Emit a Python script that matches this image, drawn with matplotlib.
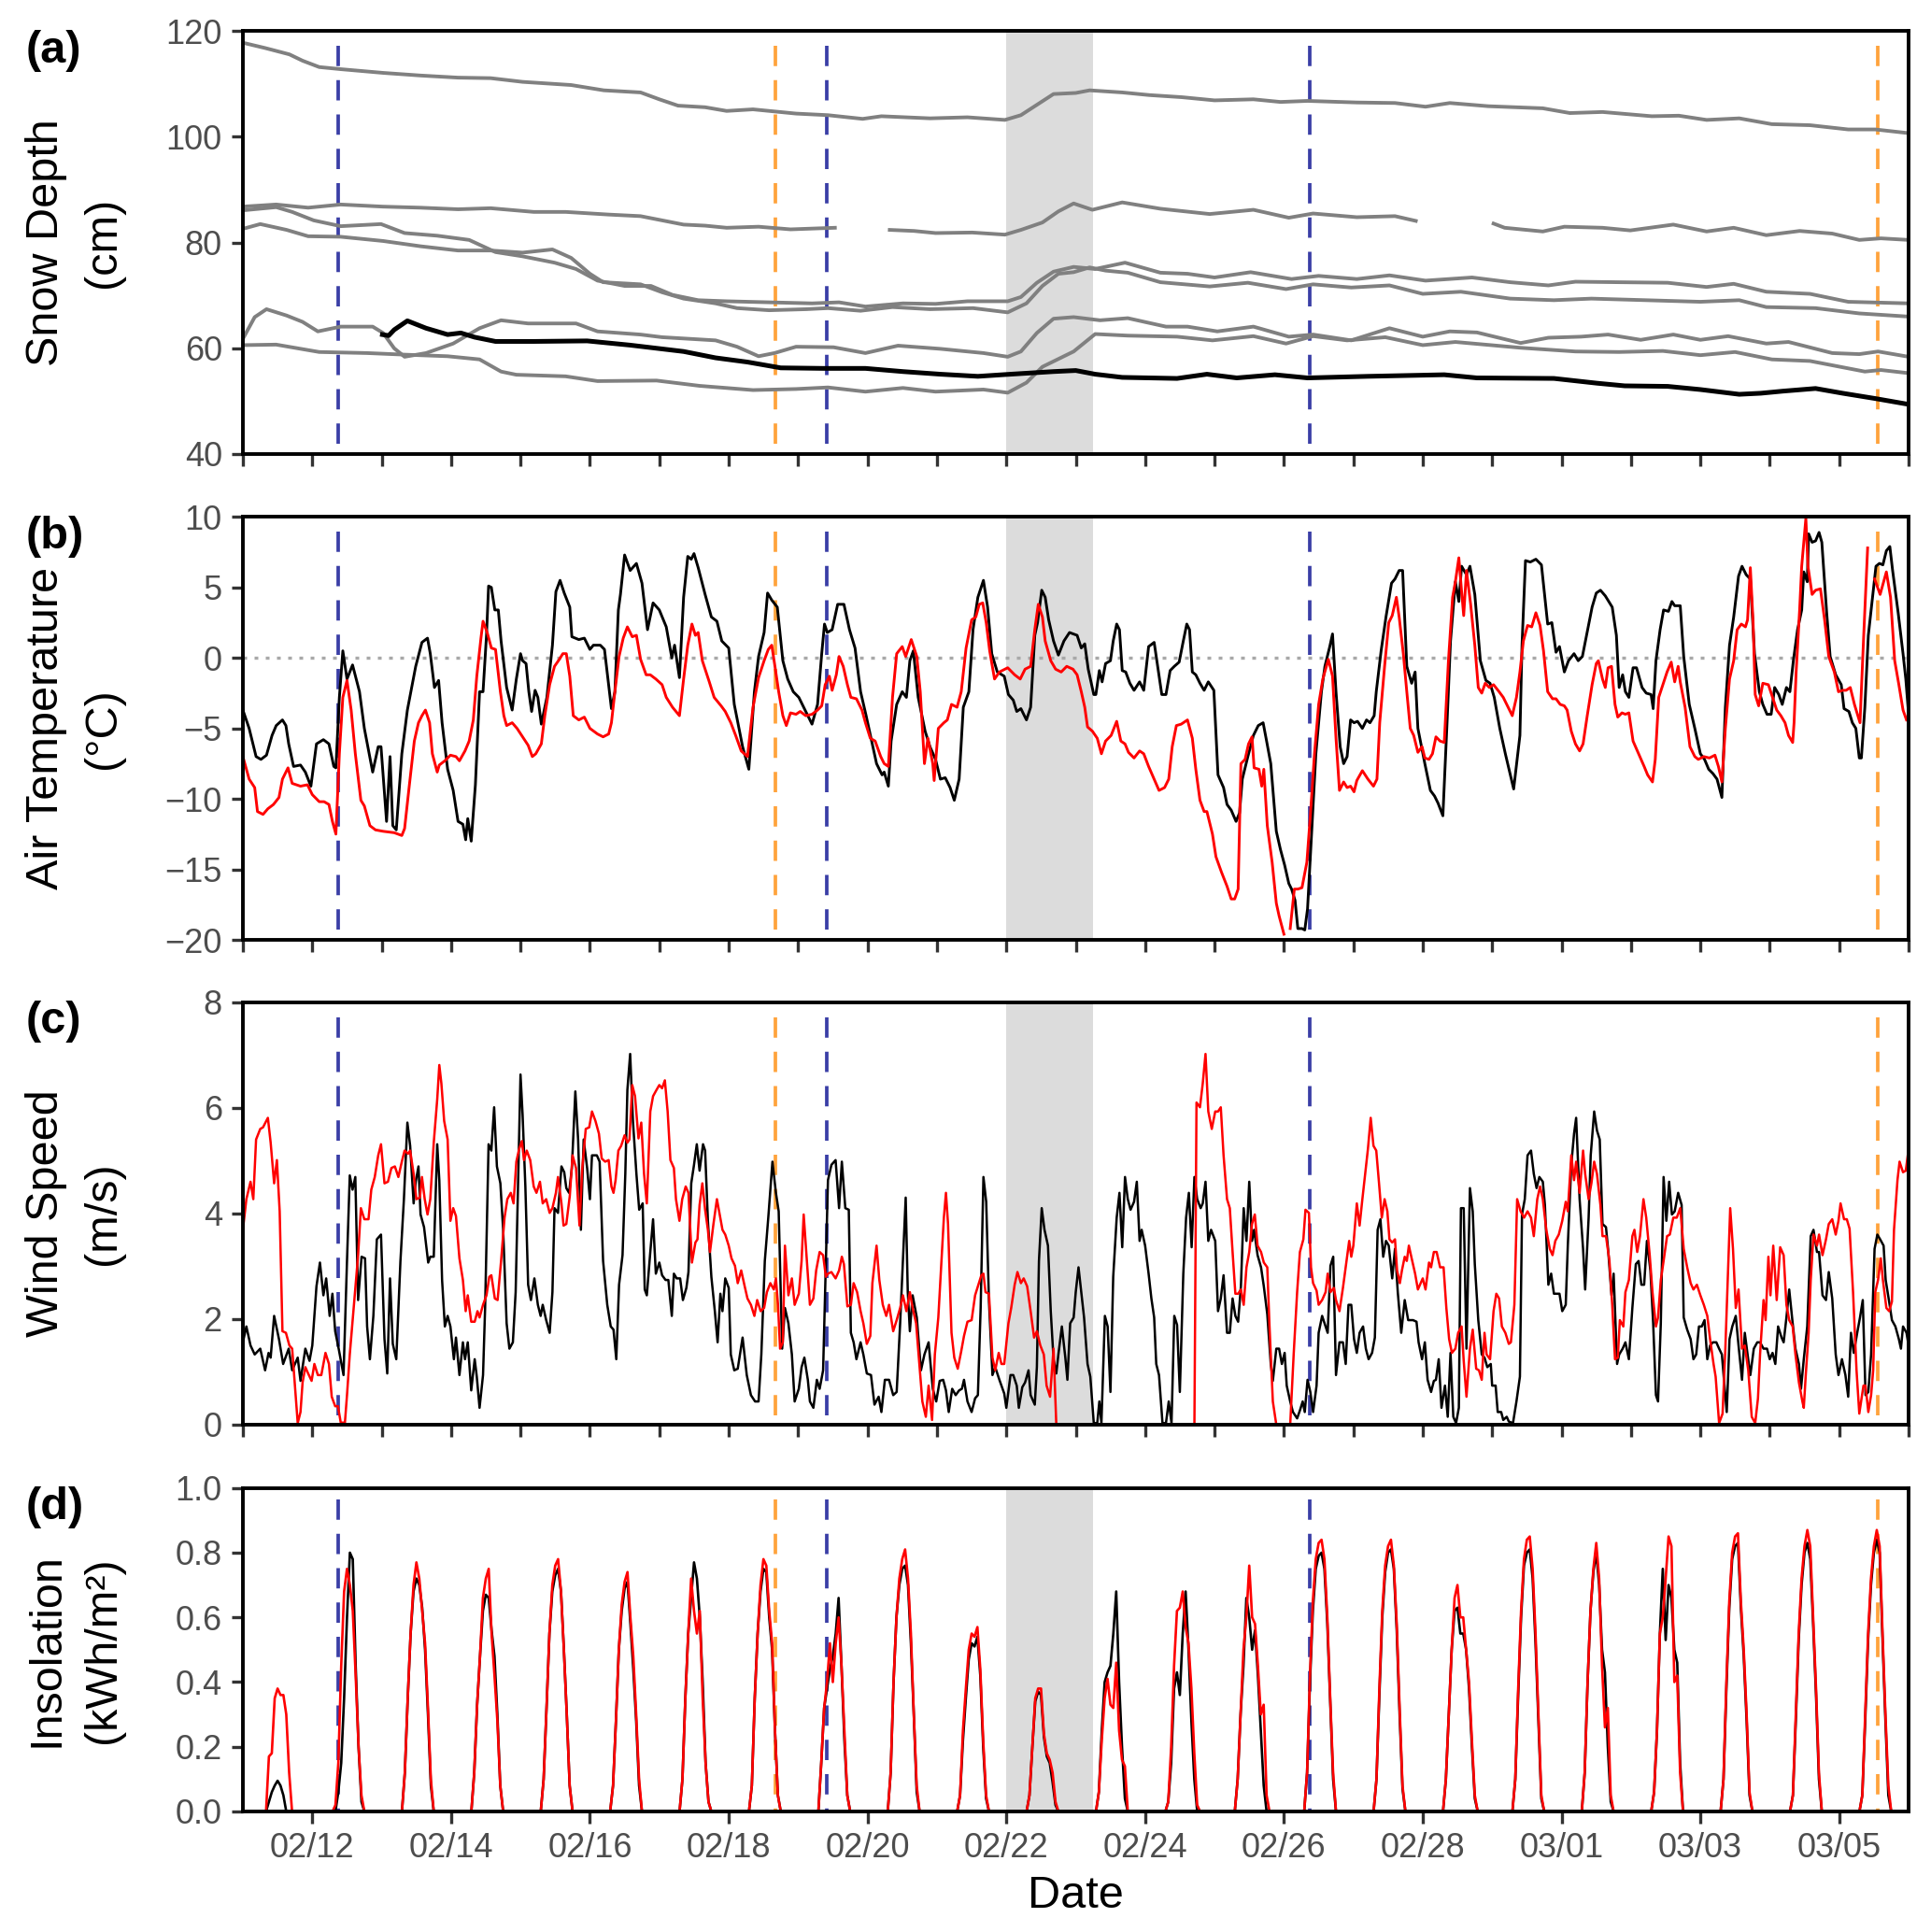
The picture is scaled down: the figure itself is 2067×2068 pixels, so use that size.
import numpy as np
import matplotlib
matplotlib.use('Agg')
import matplotlib.pyplot as plt
import matplotlib.dates as mdates
import matplotlib.ticker as mticker
from datetime import datetime

NaN = float('nan')

# ---------------- data (x = days since 2020-02-11 00:00) ----------------
START = datetime(2020, 2, 11)
END = datetime(2020, 3, 6)

blue_events = ['2020-02-12 08:50', '2020-02-19 10:00', '2020-02-26 09:00']
orange_events = ['2020-02-18 16:00', '2020-03-05 13:15']
gray_period = ('2020-02-22 00:00', '2020-02-23 06:00')
date_tick_labels = ['2020-02-12', '2020-02-14', '2020-02-16', '2020-02-18', '2020-02-20',
                    '2020-02-22', '2020-02-24', '2020-02-26', '2020-02-28', '2020-03-01',
                    '2020-03-03', '2020-03-05']

# (a) snow depth, cm
snow_main = [(2.01,62.6),(2.10,62.4),(2.18,63.5),(2.37,65.2),(2.64,63.8),(2.95,62.6),(3.14,62.9),(3.34,62.1),
             (3.64,61.3),(4.19,61.3),(4.96,61.4),(5.58,60.6),(6.35,59.4),(6.81,58.2),(7.27,57.4),(7.75,56.3),
             (8.36,56.2),(8.97,56.2),(9.51,55.6),(10.05,55.1),(10.59,54.7),(11.06,55.1),(11.68,55.6),(12.0,55.8),
             (12.28,55.1),(12.67,54.5),(13.46,54.3),(13.89,55.1),(14.32,54.4),(14.87,55.0),(15.34,54.4),(16.21,54.7),
             (17.31,55.0),(17.78,54.4),(18.89,54.3),(19.51,53.4),(19.91,52.9),(20.53,52.8),(21.0,52.2),(21.56,51.3),
             (21.87,51.5),(22.19,51.9),(22.66,52.4),(23.05,51.5),(23.52,50.5),(24.0,49.4)]
snow_s1 = [(0,117.8),(0.32,116.8),(0.67,115.6),(0.86,114.4),(1.10,113.2),(1.41,112.8),(2.02,112.1),(2.56,111.6),
           (3.10,111.2),(3.57,111.1),(4.03,110.4),(4.73,109.8),(5.20,108.8),(5.73,108.4),(6.00,107.1),(6.27,105.9),
           (6.66,105.6),(6.97,104.9),(7.35,105.2),(7.97,104.4),(8.43,104.1),(8.93,103.4),(9.20,103.9),(9.90,103.5),
           (10.44,103.7),(10.98,103.2),(11.21,104.1),(11.68,108.1),(12.0,108.3),(12.2,108.8),(12.67,108.4),(13.06,107.9),
           (13.53,107.5),(14.0,106.9),(14.56,107.1),(14.95,106.6),(15.34,106.8),(16.05,106.5),(16.6,106.4),(17.04,105.7),
           (17.39,106.4),(17.94,105.8),(18.73,105.4),(19.12,104.5),(19.59,104.7),(20.30,103.9),(20.69,104.0),(21.09,103.2),
           (21.56,103.5),(22.03,102.4),(22.58,102.2),(23.13,101.4),(23.52,101.4),(24.0,100.7)]
snow_s2 = [(0,86.8),(0.48,87.2),(0.94,86.6),(1.41,87.2),(2.02,86.8),(2.56,86.6),(3.10,86.3),(3.57,86.5),(4.19,85.8),
           (4.65,85.8),(5.27,85.3),(5.73,85.0),(6.04,84.2),(6.35,83.4),(6.66,83.2),(6.97,82.8),(7.43,83.0),(7.89,82.5),
           (8.53,82.8),(8.9,NaN),(9.32,82.4),(9.67,82.2),(9.98,81.8),(10.51,81.9),(10.98,81.5),(11.21,82.4),(11.52,83.8),
           (11.75,85.9),(11.97,87.4),(12.24,86.2),(12.67,87.6),(13.22,86.4),(13.93,85.4),(14.56,86.2),(15.07,84.7),
           (15.42,85.5),(16.05,84.8),(16.6,85.0),(16.9,84.1),(17.5,NaN),(18.02,83.6),(18.18,82.8),(18.73,82.1),
           (19.04,83.0),(19.59,82.8),(19.99,82.3),(20.61,83.4),(21.09,82.1),(21.48,82.8),(21.95,81.4),(22.43,82.2),
           (22.90,81.7),(23.29,80.5),(23.6,80.8),(24.0,80.5)]
snow_s3 = [(0,86.1),(0.48,86.7),(0.71,85.8),(1.02,84.2),(1.41,83.1),(1.99,83.5),(2.33,81.8),(2.80,81.3),(3.26,80.5),
           (3.64,78.2),(4.03,77.4),(4.49,76.2),(4.80,75.0),(5.11,72.8),(5.50,71.8),(5.88,71.8),(6.19,70.1),(6.56,69.1),
           (6.97,68.9),(7.58,68.7),(8.20,68.5),(8.59,68.7),(8.97,67.9),(9.51,68.5),(9.98,68.4),(10.44,68.9),(11.02,68.9),
           (11.21,69.7),(11.44,72.4),(11.68,74.5),(11.97,75.4),(12.28,75.0),(12.71,76.2),(13.22,74.3),(13.61,74.1),
           (14.0,73.4),(14.52,74.4),(15.11,73.1),(15.5,73.7),(16.05,73.1),(16.52,73.8),(17.04,72.8),(17.71,73.4),
           (18.26,72.5),(18.81,71.9),(19.2,72.6),(19.83,72.5),(20.53,72.4),(21.09,71.6),(21.48,72.2),(21.95,70.7),
           (22.58,70.3),(23.13,68.8),(24.0,68.5)]
snow_s4 = [(0,82.6),(0.25,83.5),(0.63,82.4),(0.94,81.2),(1.41,81.1),(2.02,80.3),(2.56,79.3),(3.10,78.5),(3.57,78.5),
           (4.03,78.1),(4.46,78.7),(4.73,77.1),(5.00,74.1),(5.19,72.5),(5.73,72.1),(6.04,70.6),(6.35,69.4),(6.81,68.5),
           (7.12,67.6),(7.58,67.2),(8.12,67.4),(8.43,67.6),(8.90,67.1),(9.36,67.8),(9.90,67.4),(10.52,67.6),(11.02,66.8),
           (11.29,68.5),(11.52,71.8),(11.75,74.1),(11.97,74.4),(12.2,75.3),(12.43,74.7),(12.75,74.3),(13.22,72.5),
           (13.93,71.7),(14.48,72.4),(15.03,71.2),(15.42,72.1),(15.97,71.5),(16.52,71.9),(17.0,70.3),(17.55,70.7),
           (18.26,69.4),(18.89,69.1),(19.43,69.4),(20.22,69.1),(21.0,68.8),(21.56,69.1),(21.95,67.8),(22.66,67.6),
           (23.29,66.6),(24.0,66.0)]
snow_s5 = [(0,61.8),(0.17,65.9),(0.34,67.4),(0.63,66.2),(0.86,65.0),(1.08,63.2),(1.41,64.1),(1.87,64.1),(2.02,62.9),
           (2.18,60.0),(2.33,58.4),(2.64,59.1),(3.03,60.9),(3.41,63.8),(3.72,65.3),(4.11,64.7),(4.80,64.7),(5.11,63.2),
           (5.73,62.6),(6.04,62.1),(6.81,61.5),(7.12,60.3),(7.43,58.5),(7.66,59.1),(7.97,60.3),(8.51,60.2),(8.97,59.1),
           (9.44,60.5),(10.05,59.9),(10.67,59.1),(11.02,58.4),(11.21,59.4),(11.44,62.9),(11.68,65.6),(11.97,65.9),
           (12.35,65.3),(12.75,65.7),(13.30,64.1),(13.61,64.1),(14.04,63.2),(14.56,64.1),(15.07,62.2),(15.42,62.6),
           (15.97,61.5),(16.52,63.8),(17.0,62.2),(17.39,63.2),(17.78,63.0),(18.41,61.0),(18.81,62.0),(19.28,62.2),
           (19.67,62.6),(20.14,61.6),(20.61,62.6),(21.0,61.6),(21.4,62.3),(21.95,60.9),(22.27,61.2),(22.90,59.1),
           (23.29,58.9),(23.56,59.4),(24.0,58.4)]
snow_s6 = [(0,60.6),(0.48,60.7),(1.10,59.3),(1.79,59.1),(2.33,58.8),(2.95,58.5),(3.41,57.9),(3.72,55.6),(3.94,55.0),
           (4.65,54.7),(5.11,53.8),(5.96,53.9),(6.58,52.9),(7.35,52.1),(7.97,52.3),(8.43,52.6),(8.97,51.8),(9.51,52.5),
           (9.98,51.8),(10.67,52.2),(11.02,51.6),(11.29,53.5),(11.52,56.5),(11.97,59.4),(12.28,62.7),(12.75,62.4),
           (13.46,62.2),(13.97,61.5),(14.56,62.3),(15.03,60.9),(15.42,62.3),(15.91,61.5),(16.46,62.1),(17.0,60.6),
           (17.47,61.2),(18.41,60.1),(19.2,59.4),(19.83,59.3),(20.46,59.5),(21.0,58.7),(21.5,59.3),(22.03,57.9),
           (22.58,57.6),(23.37,55.6),(23.6,55.9),(24.0,55.3)]

# (b) air temperature, degC (black = site 1, red = site 2)
temp_black = [(0,-3.7),(0.09,-5.0),(0.19,-7.0),(0.26,-7.2),(0.34,-6.9),(0.42,-5.5),(0.48,-4.8),(0.57,-4.4),(0.62,-4.8),
 (0.66,-6.1),(0.73,-7.7),(0.83,-7.6),(0.90,-8.1),(0.98,-9.1),(1.06,-6.1),(1.16,-5.8),(1.24,-6.1),(1.31,-7.7),(1.34,-7.8),
 (1.39,-2.8),(1.44,0.5),(1.50,-1.5),(1.58,-0.5),(1.68,-2.4),(1.75,-5.0),(1.87,-8.1),(1.95,-6.3),(1.99,-6.3),(2.07,-11.6),
 (2.12,-7.0),(2.16,-11.9),(2.21,-12.2),(2.29,-6.8),(2.37,-3.7),(2.49,-0.6),(2.58,1.1),(2.66,1.4),(2.70,0.3),(2.76,-2.1),
 (2.82,-1.6),(2.87,-4.6),(2.95,-7.9),(3.03,-9.4),(3.10,-11.6),(3.17,-11.8),(3.21,-12.9),(3.24,-11.4),(3.29,-13.0),
 (3.35,-9.0),(3.41,-2.4),(3.46,-2.4),(3.51,1.6),(3.54,5.1),(3.58,5.0),(3.63,3.4),(3.68,3.4),(3.72,1.2),(3.80,-2.1),
 (3.88,-3.7),(3.94,-1.5),(4.00,0.3),(4.03,-0.2),(4.08,-0.4),(4.12,-2.4),(4.16,-3.8),(4.21,-2.3),(4.25,-2.8),(4.30,-4.7),
 (4.38,-2.8),(4.46,0.9),(4.51,4.7),(4.57,5.5),(4.63,4.6),(4.71,3.6),(4.74,1.5),(4.84,1.3),(4.92,1.4),(5.00,0.6),
 (5.05,0.9),(5.15,0.9),(5.21,0.6),(5.27,-1.9),(5.31,-3.6),(5.36,-2.4),(5.41,3.4),(5.44,4.5),(5.50,7.3),(5.58,6.2),
 (5.67,6.7),(5.75,5.3),(5.80,3.2),(5.83,2.0),(5.91,3.9),(6.00,3.4),(6.10,2.2),(6.18,0.0),(6.22,0.9),(6.29,-1.4),
 (6.35,4.3),(6.41,7.2),(6.46,7.0),(6.50,7.4),(6.56,6.4),(6.66,4.5),(6.75,2.9),(6.83,2.6),(6.90,1.2),(7.00,0.7),
 (7.08,-3.3),(7.20,-6.3),(7.29,-7.9),(7.37,-2.4),(7.43,0.1),(7.51,1.8),(7.56,4.6),(7.62,4.1),(7.70,3.6),(7.78,-0.2),
 (7.85,-1.5),(7.93,-2.4),(8.01,-2.8),(8.08,-3.5),(8.20,-4.7),(8.28,-3.3),(8.34,0.3),(8.38,2.4),(8.42,1.8),(8.49,2.0),
 (8.57,3.8),(8.66,3.8),(8.74,2.0),(8.82,0.7),(8.90,-2.4),(8.98,-4.1),(9.05,-5.7),(9.13,-7.5),(9.21,-8.3),(9.24,-8.1),
 (9.30,-9.1),(9.34,-5.9),(9.42,-3.3),(9.50,-2.4),(9.56,-2.8),(9.61,-0.2),(9.66,0.5),(9.73,-2.8),(9.83,-5.2),(9.90,-6.3),
 (9.98,-7.2),(10.05,-8.6),(10.12,-8.5),(10.19,-9.2),(10.25,-10.1),(10.32,-8.6),(10.38,-3.5),(10.46,-2.4),(10.52,2.0),
 (10.59,4.3),(10.67,5.5),(10.73,3.6),(10.79,0.3),(10.87,-1.0),(10.97,-1.3),(11.03,-2.6),(11.10,-3.0),(11.15,-3.8),
 (11.21,-3.6),(11.29,-4.4),(11.35,-3.5),(11.41,1.6),(11.45,2.5),(11.51,4.8),(11.56,4.3),(11.61,2.7),(11.68,1.2),
 (11.75,0.2),(11.83,1.2),(11.91,1.8),(12.02,1.6),(12.08,0.7),(12.13,1.0),(12.18,-0.8),(12.26,-2.6),(12.29,-2.6),
 (12.34,-0.9),(12.38,-1.7),(12.43,-0.4),(12.50,-0.2),(12.54,1.2),(12.59,2.4),(12.63,2.0),(12.67,-0.9),(12.72,-1.0),
 (12.78,-1.8),(12.84,-2.3),(12.92,-1.7),(12.98,-2.3),(13.05,0.8),(13.13,1.1),(13.18,-0.6),(13.24,-2.6),(13.30,-2.6),
 (13.36,-0.9),(13.42,-0.6),(13.49,-0.3),(13.55,1.2),(13.60,2.4),(13.64,2.0),(13.68,-1.0),(13.73,-1.2),(13.79,-1.8),
 (13.85,-2.3),(13.91,-1.7),(13.99,-2.3),(14.05,-8.3),(14.13,-9.2),(14.18,-10.4),(14.24,-10.8),(14.31,-11.6),
 (14.36,-11.0),(14.40,-8.6),(14.48,-7.0),(14.56,-5.5),(14.63,-4.8),(14.70,-4.6),(14.75,-5.9),(14.81,-7.5),(14.89,-12.3),
 (14.95,-13.6),(15.01,-14.7),(15.07,-16.0),(15.11,-16.4),(15.16,-17.2),(15.20,-19.2),(15.26,-19.2),(15.30,-19.3),
 (15.34,-17.8),(15.40,-12.3),(15.46,-6.8),(15.54,-2.4),(15.59,-0.6),(15.66,0.8),(15.70,1.7),(15.75,-2.4),(15.81,-6.3),
 (15.86,-7.5),(15.91,-7.0),(15.96,-4.4),(16.01,-4.6),(16.06,-4.5),(16.13,-5.0),(16.19,-4.4),(16.24,-4.6),(16.30,-4.1),
 (16.33,-2.4),(16.40,0.5),(16.47,2.9),(16.55,5.3),(16.60,5.6),(16.66,6.2),(16.71,6.2),(16.77,-0.6),(16.84,-1.8),
 (16.89,-1.0),(16.93,-5.0),(17.03,-7.5),(17.11,-9.4),(17.17,-9.8),(17.22,-10.3),(17.29,-11.2),(17.35,-4.6),(17.40,1.2),
 (17.47,5.4),(17.52,4.0),(17.56,6.5),(17.63,5.9),(17.68,6.5),(17.75,4.5),(17.83,-0.2),(17.91,-1.6),(17.97,-1.8),
 (18.03,-2.8),(18.11,-5.0),(18.19,-6.8),(18.31,-9.3),(18.40,-5.5),(18.43,0.9),(18.48,6.9),(18.55,6.8),(18.63,7.0),
 (18.71,6.6),(18.76,4.3),(18.80,2.4),(18.86,2.5),(18.92,0.4),(18.97,0.8),(19.04,-1.0),(19.10,-0.2),(19.18,0.3),
 (19.24,-0.2),(19.30,0.1),(19.36,1.6),(19.44,3.6),(19.50,4.6),(19.56,4.8),(19.63,4.4),(19.73,3.6),(19.79,1.6),
 (19.83,-2.1),(19.88,-1.2),(19.92,-2.4),(19.97,-2.8),(20.03,-0.7),(20.08,-0.7),(20.16,-2.1),(20.22,-2.5),(20.29,-2.6),
 (20.32,-3.6),(20.36,-0.2),(20.42,2.0),(20.47,3.4),(20.54,3.3),(20.59,4.0),(20.63,3.7),(20.71,3.7),(20.76,0.1),
 (20.84,-3.3),(20.92,-5.0),(21.00,-6.8),(21.06,-7.2),(21.12,-7.9),(21.18,-8.2),(21.24,-8.6),(21.31,-9.9),(21.36,-3.5),
 (21.42,0.9),(21.48,2.9),(21.55,5.8),(21.60,6.5),(21.66,5.9),(21.72,5.6),(21.78,0.3),(21.85,-2.4),(21.90,-3.3),
 (21.96,-4.0),(22.02,-4.0),(22.07,-2.1),(22.13,-2.6),(22.18,-3.3),(22.24,-2.1),(22.29,-2.4),(22.34,-0.2),(22.40,2.0),
 (22.46,3.4),(22.49,6.1),(22.54,5.4),(22.56,8.8),(22.61,8.2),(22.66,8.3),(22.71,8.9),(22.75,8.2),(22.82,3.2),
 (22.87,0.1),(22.95,-1.2),(23.03,-1.9),(23.07,-3.6),(23.14,-3.8),(23.19,-4.6),(23.24,-5.0),(23.29,-7.1),(23.32,-7.1),
 (23.37,-3.5),(23.42,1.6),(23.48,4.3),(23.53,6.5),(23.58,6.7),(23.63,6.6),(23.68,7.6),(23.73,7.9),(23.77,6.2),
 (23.85,3.2),(23.92,0.3),(23.96,-1.5),(24.0,-4.0)]
temp_red = [(0,-7.0),(0.09,-8.6),(0.17,-9.2),(0.21,-10.9),(0.29,-11.1),(0.36,-10.7),(0.44,-10.4),(0.52,-9.9),(0.57,-8.6),
 (0.65,-7.8),(0.71,-8.9),(0.83,-9.1),(0.93,-9.0),(1.00,-9.7),(1.10,-10.2),(1.17,-10.2),(1.24,-10.4),(1.29,-11.6),
 (1.34,-12.5),(1.39,-6.8),(1.44,-2.8),(1.50,-1.6),(1.56,-3.7),(1.62,-6.8),(1.70,-10.1),(1.75,-10.5),(1.83,-11.9),
 (1.91,-12.2),(2.02,-12.3),(2.18,-12.4),(2.29,-12.6),(2.33,-12.1),(2.39,-9.4),(2.47,-5.9),(2.53,-4.6),(2.58,-4.1),
 (2.63,-3.7),(2.69,-4.6),(2.73,-6.8),(2.80,-8.1),(2.83,-7.6),(2.91,-7.3),(2.99,-6.9),(3.07,-7.0),(3.12,-7.3),(3.20,-6.6),
 (3.26,-5.9),(3.32,-4.4),(3.37,-1.3),(3.43,1.4),(3.46,2.6),(3.52,1.8),(3.58,0.7),(3.64,0.6),(3.71,-2.4),(3.76,-4.1),
 (3.80,-4.8),(3.88,-4.6),(3.95,-5.0),(4.03,-5.6),(4.11,-6.2),(4.17,-7.0),(4.22,-6.8),(4.30,-6.1),(4.35,-4.1),(4.42,-1.9),
 (4.49,-0.6),(4.56,-0.1),(4.61,0.3),(4.66,0.3),(4.71,-1.3),(4.76,-4.1),(4.84,-4.4),(4.92,-4.2),(5.00,-5.0),(5.11,-5.4),
 (5.19,-5.6),(5.27,-5.4),(5.31,-4.6),(5.36,-2.4),(5.42,0.1),(5.48,1.4),(5.54,2.2),(5.61,1.5),(5.67,1.6),(5.73,-0.1),
 (5.81,-1.2),(5.87,-1.2),(5.95,-1.5),(6.04,-1.9),(6.10,-2.8),(6.19,-3.5),(6.29,-4.1),(6.35,-1.5),(6.41,0.9),(6.47,2.4),
 (6.52,1.6),(6.56,1.8),(6.62,-0.2),(6.72,-1.7),(6.79,-2.8),(6.89,-3.4),(6.95,-3.8),(7.03,-4.6),(7.10,-5.5),(7.18,-6.6),
 (7.27,-7.0),(7.35,-3.5),(7.43,-1.4),(7.51,-0.2),(7.57,0.6),(7.62,0.9),(7.66,-0.4),(7.72,-2.4),(7.78,-4.1),(7.83,-4.8),
 (7.89,-3.9),(7.97,-4.0),(8.03,-3.8),(8.11,-4.1),(8.20,-4.0),(8.28,-3.7),(8.34,-3.4),(8.39,-1.9),(8.45,-1.3),(8.49,-2.3),
 (8.55,-1.2),(8.59,0.1),(8.65,-0.6),(8.71,-1.9),(8.76,-2.8),(8.84,-2.9),(8.92,-3.7),(8.97,-4.6),(9.04,-5.7),(9.11,-5.9),
 (9.19,-7.0),(9.24,-7.5),(9.30,-7.7),(9.36,-2.8),(9.42,0.3),(9.50,0.8),(9.55,0.1),(9.63,1.3),(9.71,0.1),(9.76,-2.4),
 (9.82,-7.5),(9.87,-5.7),(9.94,-7.5),(9.96,-8.7),(10.02,-5.0),(10.10,-4.6),(10.15,-4.4),(10.21,-3.3),(10.29,-3.5),
 (10.35,-2.4),(10.42,0.7),(10.50,2.7),(10.56,2.9),(10.61,3.8),(10.66,3.9),(10.71,2.5),(10.76,0.5),(10.83,-1.5),
 (10.90,-1.0),(11.02,-0.7),(11.12,-1.2),(11.20,-1.5),(11.27,-0.8),(11.35,-0.6),(11.41,2.0),(11.46,3.8),(11.52,2.9),
 (11.56,1.2),(11.64,-0.2),(11.71,-0.8),(11.79,-1.0),(11.87,-0.6),(11.96,-0.8),(12.02,-1.2),(12.08,-2.4),(12.13,-3.5),
 (12.17,-4.9),(12.24,-5.2),(12.31,-5.7),(12.37,-6.8),(12.43,-5.9),(12.51,-5.5),(12.59,-4.5),(12.65,-5.9),(12.71,-6.1),
 (12.76,-6.7),(12.84,-7.1),(12.92,-6.6),(12.98,-6.8),(13.05,-7.7),(13.13,-8.6),(13.20,-9.4),(13.28,-9.2),(13.34,-8.6),
 (13.39,-6.3),(13.45,-4.8),(13.52,-4.7),(13.61,-4.4),(13.68,-5.7),(13.73,-7.9),(13.79,-10.1),(13.85,-10.9),
 (13.89,-10.9),(13.97,-12.5),(14.02,-14.1),(14.10,-15.2),(14.18,-16.2),(14.24,-17.1),(14.29,-17.1),(14.34,-16.4),
 (14.38,-7.5),(14.44,-7.2),(14.49,-6.1),(14.54,-5.6),(14.57,-7.8),(14.64,-7.9),(14.68,-9.1),(14.71,-7.9),(14.76,-11.9),
 (14.83,-14.5),(14.89,-17.4),(14.93,-18.3),(15.00,-19.6),(15.05,NaN),(15.09,-19.2),(15.15,-16.4),(15.20,-16.4),
 (15.26,-16.3),(15.33,-14.5),(15.38,-11.2),(15.44,-6.8),(15.50,-3.3),(15.56,-1.5),(15.60,-0.8),(15.64,-0.1),(15.70,-1.3),
 (15.75,-5.7),(15.80,-9.4),(15.86,-8.8),(15.91,-9.2),(15.96,-9.1),(16.01,-9.5),(16.05,-8.7),(16.13,-8.0),(16.21,-8.6),
 (16.29,-9.1),(16.34,-8.6),(16.38,-4.6),(16.45,-0.6),(16.51,2.5),(16.56,3.0),(16.62,4.3),(16.66,2.9),(16.72,0.3),
 (16.77,-2.4),(16.82,-5.0),(16.87,-5.5),(16.93,-6.7),(16.99,-6.3),(17.03,-7.1),(17.09,-7.2),(17.14,-6.8),(17.19,-5.6),
 (17.25,-5.9),(17.31,-6.0),(17.37,-0.2),(17.43,4.3),(17.47,5.4),(17.52,7.1),(17.56,4.7),(17.59,3.0),(17.63,6.2),
 (17.69,3.8),(17.75,0.9),(17.80,-2.1),(17.85,-2.5),(17.90,-1.8),(17.96,-2.1),(18.02,-1.9),(18.10,-2.4),(18.16,-2.8),
 (18.21,-3.3),(18.29,-4.1),(18.35,-2.8),(18.40,-1.0),(18.45,1.2),(18.51,2.3),(18.57,2.2),(18.63,3.2),(18.69,2.3),
 (18.74,0.5),(18.80,-2.4),(18.87,-2.9),(18.92,-2.9),(18.98,-3.3),(19.04,-3.4),(19.08,-3.7),(19.14,-5.2),(19.20,-6.1),
 (19.26,-6.6),(19.31,-6.1),(19.37,-4.1),(19.44,-1.9),(19.50,-0.4),(19.53,-0.2),(19.59,-1.5),(19.63,-2.1),(19.67,-0.7),
 (19.72,-0.6),(19.77,-3.3),(19.81,-4.2),(19.87,-3.9),(19.92,-4.0),(19.97,-3.9),(20.03,-5.9),(20.11,-6.8),(20.19,-7.7),
 (20.24,-8.3),(20.31,-8.8),(20.35,-7.2),(20.40,-2.8),(20.46,-1.9),(20.52,-1.0),(20.58,-0.3),(20.63,-1.7),(20.68,-0.6),
 (20.71,-1.7),(20.78,-3.5),(20.85,-6.3),(20.92,-7.0),(20.97,-7.2),(21.05,-7.0),(21.13,-7.1),(21.21,-6.9),(21.26,-7.7),
 (21.31,-8.8),(21.36,-5.0),(21.42,-1.5),(21.48,-0.2),(21.53,2.0),(21.59,2.4),(21.65,2.2),(21.68,2.7),(21.72,6.4),
 (21.76,2.5),(21.79,-2.6),(21.84,-3.4),(21.90,-1.8),(21.98,-1.9),(22.04,-2.8),(22.10,-3.7),(22.16,-4.1),(22.22,-4.6),
 (22.27,-5.5),(22.33,-6.0),(22.35,-4.6),(22.38,-1.0),(22.43,3.4),(22.46,6.5),(22.52,9.9),(22.55,6.5),(22.61,4.5),
 (22.66,4.8),(22.73,4.9),(22.79,2.7),(22.85,0.1),(22.93,-1.0),(22.99,-2.4),(23.05,-2.3),(23.10,-2.3),(23.16,-2.1),
 (23.22,-3.3),(23.27,-4.1),(23.30,-4.6),(23.35,1.2),(23.41,7.8),(23.46,NaN),(23.51,5.6),(23.59,4.5),(23.64,5.4),
 (23.68,6.1),(23.74,4.3),(23.80,-0.2),(23.86,-1.9),(23.92,-3.7),(23.97,-4.4)]

# (c) wind speed, m/s
wind_black = [(0,1.56),(0.05,1.86),(0.11,1.50),(0.17,1.33),(0.25,1.44),(0.32,1.03),(0.37,1.36),(0.40,1.27),(0.45,2.06),
 (0.52,1.62),(0.58,1.15),(0.66,1.44),(0.71,1.03),(0.79,1.27),(0.83,0.83),(0.90,1.44),(0.96,1.21),(1.00,1.50),(1.06,2.62),
 (1.11,3.07),(1.16,2.45),(1.20,2.77),(1.25,2.06),(1.29,2.48),(1.33,1.77),(1.38,1.44),(1.45,0.94),(1.50,3.10),(1.54,4.72),
 (1.58,4.45),(1.62,4.69),(1.66,2.36),(1.71,3.18),(1.76,3.15),(1.79,1.86),(1.83,1.24),(1.88,2.06),(1.93,3.51),(1.99,3.60),
 (2.04,1.62),(2.08,0.97),(2.12,2.77),(2.16,1.53),(2.21,1.24),(2.27,3.10),(2.32,4.27),(2.37,5.72),(2.41,5.28),(2.46,4.19),
 (2.49,4.60),(2.53,4.89),(2.56,3.98),(2.61,3.74),(2.67,3.07),(2.70,3.18),(2.75,3.18),(2.80,5.31),(2.83,4.63),(2.87,2.74),
 (2.91,1.86),(2.95,2.06),(2.99,1.86),(3.04,1.24),(3.07,1.65),(3.12,0.94),(3.17,1.56),(3.20,1.24),(3.24,1.56),(3.29,0.65),
 (3.34,1.24),(3.37,0.91),(3.41,0.32),(3.46,0.94),(3.49,2.21),(3.54,5.31),(3.58,5.19),(3.62,6.01),(3.66,4.89),(3.71,4.57),
 (3.75,3.69),(3.80,1.92),(3.84,1.44),(3.89,1.56),(3.93,2.51),(3.97,4.86),(4.00,6.63),(4.03,5.87),(4.07,4.51),(4.11,2.65),
 (4.15,2.36),(4.20,2.77),(4.25,2.27),(4.29,2.06),(4.32,2.27),(4.37,1.98),(4.42,1.74),(4.46,2.51),(4.49,4.10),(4.54,4.01),
 (4.59,4.89),(4.63,4.78),(4.66,4.48),(4.70,4.39),(4.74,4.86),(4.79,6.31),(4.83,5.40),(4.87,3.69),(4.91,5.40),(4.96,4.86),
 (5.00,4.27),(5.03,5.10),(5.10,5.10),(5.14,4.98),(5.19,3.10),(5.25,2.27),(5.30,1.86),(5.34,1.80),(5.38,1.24),(5.42,2.65),
 (5.47,3.21),(5.51,4.75),(5.54,6.34),(5.58,7.02),(5.62,5.75),(5.67,4.75),(5.71,4.07),(5.76,4.19),(5.79,2.56),(5.82,2.45),
 (5.87,3.27),(5.91,3.89),(5.95,2.86),(6.00,3.07),(6.04,2.83),(6.09,2.74),(6.13,2.74),(6.18,2.06),(6.21,2.86),(6.25,2.77),
 (6.30,2.77),(6.34,2.36),(6.39,2.59),(6.42,2.89),(6.46,4.57),(6.50,4.92),(6.54,5.31),(6.58,4.81),(6.63,5.31),(6.66,5.19),
 (6.70,3.86),(6.75,2.80),(6.80,2.15),(6.84,1.56),(6.88,2.48),(6.91,2.15),(6.95,2.77),(7.00,2.59),(7.03,1.33),(7.08,1.03),
 (7.13,1.06),(7.20,1.65),(7.26,0.94),(7.32,0.56),(7.38,0.44),(7.43,0.44),(7.47,1.33),(7.52,3.10),(7.57,3.92),(7.63,4.98),
 (7.68,4.39),(7.72,4.04),(7.77,1.44),(7.81,2.21),(7.86,1.92),(7.91,1.33),(7.95,0.44),(8.01,0.68),(8.05,1.09),(8.09,1.27),
 (8.14,0.85),(8.17,0.44),(8.22,0.32),(8.27,0.85),(8.31,0.68),(8.36,1.03),(8.40,3.10),(8.43,4.63),(8.48,4.92),(8.54,5.01),
 (8.59,4.10),(8.63,4.98),(8.68,4.10),(8.73,4.07),(8.76,1.74),(8.80,1.56),(8.84,1.24),(8.90,1.56),(8.94,1.33),(8.99,0.97),
 (9.05,0.94),(9.10,0.38),(9.16,0.53),(9.20,0.24),(9.25,0.85),(9.31,0.85),(9.37,0.56),(9.42,0.62),(9.47,1.92),(9.50,2.80),
 (9.55,4.30),(9.58,2.51),(9.61,1.77),(9.65,2.45),(9.71,2.03),(9.77,1.03),(9.82,1.33),(9.88,1.56),(9.94,0.68),(9.99,0.44),
 (10.04,0.83),(10.09,0.85),(10.13,0.65),(10.17,0.24),(10.22,0.68),(10.27,0.56),(10.32,0.65),(10.36,0.68),(10.39,0.85),
 (10.44,0.44),(10.50,0.24),(10.55,0.50),(10.59,0.56),(10.63,2.21),(10.67,4.69),(10.71,4.22),(10.75,2.33),(10.80,0.94),
 (10.84,1.09),(10.90,0.85),(10.97,0.59),(11.00,0.32),(11.06,0.94),(11.10,0.94),(11.15,0.74),(11.18,0.32),(11.23,0.71),
 (11.27,0.80),(11.32,1.03),(11.35,0.56),(11.41,0.38),(11.44,1.09),(11.47,3.10),(11.51,4.10),(11.55,3.69),(11.60,3.39),
 (11.64,2.15),(11.68,1.24),(11.72,0.97),(11.75,1.33),(11.80,1.86),(11.85,1.27),(11.88,0.85),(11.92,1.92),(11.97,2.03),
 (12.00,2.51),(12.04,2.98),(12.08,2.51),(12.12,2.03),(12.17,1.15),(12.21,0.91),(12.26,0.03),(12.31,0.03),(12.34,0.44),
 (12.37,0.03),(12.42,2.06),(12.46,1.86),(12.50,0.62),(12.54,2.80),(12.59,3.92),(12.63,4.39),(12.67,3.36),(12.71,4.69),
 (12.75,4.27),(12.79,4.07),(12.84,4.22),(12.88,4.60),(12.92,3.48),(12.95,3.69),(13.00,3.39),(13.05,2.86),(13.09,2.39),
 (13.13,2.03),(13.16,1.15),(13.20,0.94),(13.25,0.03),(13.30,0.03),(13.34,0.44),(13.38,0.03),(13.42,2.06),(13.46,1.89),
 (13.50,0.62),(13.55,2.86),(13.59,3.92),(13.63,4.39),(13.67,3.36),(13.71,4.69),(13.75,4.27),(13.80,4.10),(13.83,4.19),
 (13.87,4.60),(13.91,3.48),(13.95,3.69),(14.01,3.48),(14.05,2.15),(14.09,2.39),(14.13,2.83),(14.18,1.74),(14.22,1.74),
 (14.26,2.39),(14.30,2.06),(14.34,1.95),(14.38,2.62),(14.42,4.10),(14.46,3.48),(14.50,4.60),(14.54,3.48),(14.57,3.69),
 (14.62,3.21),(14.67,2.98),(14.71,2.62),(14.76,2.09),(14.81,1.15),(14.84,0.83),(14.89,1.44),(14.93,1.44),(14.97,1.15),
 (15.01,1.36),(15.04,0.74),(15.09,0.44),(15.13,0.24),(15.19,0.12),(15.23,0.27),(15.27,0.44),(15.30,0.24),(15.34,0.85),
 (15.38,0.62),(15.42,0.24),(15.47,0.74),(15.50,1.74),(15.55,2.06),(15.60,1.86),(15.63,1.74),(15.67,3.01),(15.71,3.18),
 (15.75,0.94),(15.80,1.56),(15.85,1.56),(15.89,1.15),(15.93,2.27),(15.97,2.27),(16.01,1.62),(16.05,1.36),(16.09,1.74),
 (16.14,1.86),(16.18,1.44),(16.22,1.24),(16.27,1.36),(16.31,1.65),(16.35,3.69),(16.39,3.89),(16.43,3.18),(16.47,3.48),
 (16.51,3.39),(16.56,2.77),(16.60,3.33),(16.64,2.51),(16.69,1.74),(16.74,2.36),(16.79,1.98),(16.86,1.98),(16.91,1.95),
 (16.94,1.56),(16.99,1.24),(17.03,1.56),(17.07,0.85),(17.12,0.62),(17.16,0.83),(17.19,0.85),(17.23,1.24),(17.27,0.32),
 (17.32,0.74),(17.36,0.15),(17.40,1.36),(17.44,0.15),(17.48,0.03),(17.52,0.32),(17.55,4.10),(17.59,4.10),(17.63,1.44),
 (17.68,4.48),(17.72,4.04),(17.75,3.04),(17.80,1.98),(17.85,1.33),(17.89,1.27),(17.93,1.09),(17.98,1.15),(18.00,0.74),
 (18.05,0.74),(18.08,0.24),(18.13,0.24),(18.16,0.09),(18.21,0.15),(18.24,0.06),(18.30,0.03),(18.35,0.44),(18.40,0.91),
 (18.43,3.98),(18.47,4.27),(18.51,5.10),(18.56,5.19),(18.60,4.75),(18.64,4.48),(18.68,4.69),(18.73,4.60),(18.76,4.16),
 (18.81,2.65),(18.85,2.86),(18.89,2.48),(18.93,2.48),(18.97,2.48),(19.01,2.15),(19.06,2.27),(19.09,3.39),(19.14,4.92),
 (19.18,5.51),(19.21,5.81),(19.26,4.27),(19.31,3.33),(19.34,2.56),(19.39,3.92),(19.42,5.10),(19.47,5.93),(19.51,5.57),
 (19.55,5.40),(19.59,3.80),(19.64,3.74),(19.67,3.33),(19.72,2.45),(19.75,2.86),(19.80,1.15),(19.83,1.33),(19.88,1.44),
 (19.92,1.56),(19.97,1.24),(20.02,2.21),(20.07,3.04),(20.11,3.10),(20.15,2.65),(20.19,2.65),(20.23,3.48),(20.28,2.92),
 (20.32,1.92),(20.36,0.56),(20.39,0.44),(20.43,1.92),(20.47,4.69),(20.51,3.86),(20.55,4.60),(20.59,3.98),(20.63,4.04),
 (20.68,4.39),(20.73,4.16),(20.76,2.03),(20.81,1.80),(20.86,1.62),(20.90,1.24),(20.94,1.33),(20.98,1.86),(21.02,1.86),
 (21.06,1.98),(21.10,1.24),(21.14,1.50),(21.18,1.56),(21.23,1.56),(21.27,1.44),(21.31,1.33),(21.34,0.85),(21.38,0.24),
 (21.42,1.62),(21.46,1.86),(21.51,2.06),(21.55,1.50),(21.60,0.85),(21.64,1.74),(21.68,1.33),(21.72,0.94),(21.77,1.44),
 (21.82,1.56),(21.86,1.56),(21.91,1.44),(21.96,1.44),(22.00,1.24),(22.04,1.36),(22.08,1.15),(22.12,1.86),(22.17,1.65),
 (22.20,1.56),(22.24,2.03),(22.28,2.56),(22.33,1.92),(22.37,1.44),(22.42,1.15),(22.45,0.68),(22.49,1.24),(22.54,1.86),
 (22.59,3.57),(22.63,3.69),(22.68,3.27),(22.71,3.27),(22.76,2.45),(22.81,2.36),(22.85,2.89),(22.90,2.39),(22.95,1.33),
 (22.99,0.94),(23.04,1.24),(23.09,0.94),(23.13,0.53),(23.17,1.74),(23.21,1.36),(23.26,1.74),(23.30,2.03),(23.34,2.36),
 (23.38,0.56),(23.42,0.62),(23.46,1.33),(23.51,3.33),(23.55,3.60),(23.59,3.51),(23.64,3.39),(23.67,2.74),(23.72,2.33),
 (23.76,1.98),(23.81,1.86),(23.86,1.62),(23.89,1.44),(23.92,1.86),(23.97,1.74),(24.0,1.50)]
wind_red = [(0,3.69),(0.05,4.27),(0.11,4.60),(0.15,4.27),(0.19,5.40),(0.25,5.60),(0.29,5.63),(0.36,5.81),(0.40,5.34),
 (0.45,4.57),(0.49,5.01),(0.53,4.04),(0.57,1.77),(0.62,1.74),(0.67,1.50),(0.71,1.44),(0.75,0.74),(0.79,0.03),(0.83,0.24),
 (0.86,0.80),(0.90,1.09),(0.94,0.97),(0.99,0.83),(1.03,1.15),(1.08,0.94),(1.13,0.94),(1.19,1.36),(1.24,1.15),(1.28,0.53),
 (1.33,0.35),(1.37,0.35),(1.41,0.04),(1.47,0.04),(1.50,0.56),(1.54,1.33),(1.60,2.27),(1.66,3.21),(1.70,4.10),(1.75,3.89),
 (1.81,3.89),(1.85,4.45),(1.90,4.69),(1.95,5.10),(1.99,5.31),(2.04,4.57),(2.09,4.60),(2.14,4.86),(2.19,4.89),(2.24,4.69),
 (2.29,4.98),(2.33,5.19),(2.38,5.13),(2.41,5.19),(2.46,4.75),(2.50,4.27),(2.55,4.30),(2.58,4.69),(2.62,4.27),(2.66,3.98),
 (2.70,4.27),(2.75,5.34),(2.80,6.16),(2.83,6.81),(2.86,6.46),(2.90,5.75),(2.95,5.40),(2.99,3.86),(3.03,4.10),(3.07,3.95),
 (3.12,3.15),(3.17,2.74),(3.21,2.15),(3.24,2.45),(3.29,1.95),(3.34,1.95),(3.38,2.15),(3.41,2.03),(3.46,2.27),(3.51,2.45),
 (3.55,2.80),(3.58,2.83),(3.63,2.39),(3.67,2.36),(3.72,3.10),(3.77,3.92),(3.81,4.27),(3.86,4.39),(3.90,4.19),(3.94,4.98),
 (3.98,5.22),(4.02,5.37),(4.05,5.01),(4.09,5.19),(4.14,5.01),(4.19,4.51),(4.23,4.39),(4.28,4.60),(4.32,4.19),(4.37,4.27),
 (4.42,4.01),(4.46,4.10),(4.51,4.39),(4.54,4.69),(4.59,4.19),(4.62,3.77),(4.66,3.80),(4.71,4.33),(4.75,5.10),(4.80,4.86),
 (4.85,3.77),(4.89,4.86),(4.94,5.60),(4.99,5.63),(5.03,5.93),(5.08,5.75),(5.13,5.51),(5.17,5.04),(5.22,4.98),(5.27,5.01),
 (5.31,4.51),(5.34,4.39),(5.37,4.63),(5.41,5.19),(5.45,5.28),(5.50,5.48),(5.54,5.34),(5.57,5.40),(5.61,6.43),(5.65,6.22),
 (5.70,5.42),(5.74,5.72),(5.78,4.75),(5.82,4.19),(5.87,5.93),(5.91,6.22),(5.96,6.34),(6.00,6.43),(6.04,6.37),(6.08,6.52),
 (6.12,5.93),(6.16,5.01),(6.21,4.86),(6.24,4.27),(6.29,3.86),(6.33,4.27),(6.38,4.51),(6.42,4.39),(6.47,3.07),(6.52,3.45),
 (6.55,3.51),(6.58,4.16),(6.62,4.57),(6.66,4.07),(6.70,3.69),(6.73,3.27),(6.78,3.80),(6.83,4.27),(6.87,3.98),(6.91,3.69),
 (6.95,3.60),(7.00,3.39),(7.04,3.15),(7.09,3.01),(7.13,2.68),(7.18,2.92),(7.23,2.62),(7.27,2.39),(7.32,2.27),(7.37,2.06),
 (7.41,2.36),(7.46,2.15),(7.51,2.21),(7.55,2.51),(7.60,2.68),(7.65,2.56),(7.68,2.77),(7.71,2.27),(7.74,1.44),(7.78,1.56),
 (7.81,3.39),(7.86,2.45),(7.91,2.77),(7.95,2.27),(8.01,2.48),(8.05,3.10),(8.08,3.98),(8.12,3.21),(8.17,2.27),(8.22,2.39),
 (8.26,2.92),(8.31,3.27),(8.36,3.21),(8.40,2.80),(8.43,2.86),(8.48,2.89),(8.54,2.77),(8.59,2.92),(8.63,3.18),(8.66,3.04),
 (8.71,2.24),(8.76,2.27),(8.80,2.68),(8.85,2.51),(8.90,2.15),(8.94,1.92),(8.99,1.53),(9.04,1.68),(9.07,2.68),(9.13,3.39),
 (9.17,2.74),(9.22,2.27),(9.27,2.06),(9.31,2.27),(9.37,1.77),(9.42,1.98),(9.47,2.21),(9.51,2.45),(9.56,2.15),(9.61,2.51),
 (9.65,2.21),(9.70,1.92),(9.75,1.09),(9.79,0.44),(9.84,0.15),(9.88,0.74),(9.93,0.09),(9.97,1.33),(10.02,2.03),(10.07,3.21),
 (10.10,3.92),(10.13,4.39),(10.16,3.80),(10.21,1.74),(10.25,1.27),(10.30,1.06),(10.35,1.39),(10.39,1.68),(10.44,1.95),
 (10.50,1.98),(10.55,2.45),(10.59,2.62),(10.64,2.83),(10.67,2.86),(10.70,2.51),(10.75,2.48),(10.80,1.27),(10.84,1.03),
 (10.89,1.36),(10.93,1.15),(10.97,1.15),(11.03,1.92),(11.07,2.21),(11.12,2.65),(11.16,2.89),(11.21,2.68),(11.25,2.77),
 (11.30,2.62),(11.35,2.15),(11.40,1.65),(11.44,1.77),(11.49,1.50),(11.54,1.33),(11.58,0.74),(11.63,0.53),(11.68,1.44),
 (11.72,0.0),(13.71,0.0),(13.74,6.10),(13.79,6.01),(13.83,6.46),(13.87,7.02),(13.91,5.93),(13.96,5.60),(14.01,5.93),
 (14.05,5.93),(14.09,6.01),(14.13,5.10),(14.18,4.27),(14.22,4.10),(14.26,3.27),(14.30,2.48),(14.34,2.48),(14.38,2.56),
 (14.42,2.27),(14.46,2.98),(14.50,3.27),(14.54,3.80),(14.58,3.98),(14.62,3.39),(14.67,3.27),(14.71,3.07),(14.76,2.98),
 (14.79,1.92),(14.84,0.44),(14.89,0.0),(15.09,0.0),(15.14,1.33),(15.19,2.51),(15.23,3.27),(15.28,3.51),(15.31,4.07),
 (15.36,4.01),(15.39,2.98),(15.42,2.68),(15.47,2.54),(15.50,2.27),(15.55,2.36),(15.60,2.51),(15.63,2.86),(15.67,2.51),
 (15.72,2.59),(15.75,2.36),(15.80,2.15),(15.85,2.59),(15.89,2.98),(15.94,3.48),(15.97,3.18),(16.00,3.39),(16.05,4.19),
 (16.09,3.77),(16.13,4.27),(16.17,4.75),(16.21,5.22),(16.25,5.81),(16.29,5.28),(16.33,5.19),(16.37,4.57),(16.41,3.92),
 (16.45,4.27),(16.49,4.04),(16.52,3.51),(16.56,3.45),(16.60,3.51),(16.63,2.92),(16.67,2.68),(16.70,2.92),(16.74,3.18),
 (16.77,3.10),(16.80,3.39),(16.84,3.15),(16.89,2.86),(16.93,2.56),(16.97,2.68),(17.00,2.77),(17.04,2.56),(17.09,3.07),
 (17.12,2.98),(17.16,3.27),(17.20,3.27),(17.25,2.98),(17.30,2.98),(17.34,2.21),(17.38,1.62),(17.42,1.36),(17.47,1.44),
 (17.51,1.74),(17.56,1.86),(17.59,1.21),(17.63,0.53),(17.68,1.44),(17.72,1.80),(17.77,1.06),(17.81,1.03),(17.85,0.85),
 (17.89,1.74),(17.92,1.33),(17.97,1.24),(18.02,2.15),(18.06,2.48),(18.10,2.39),(18.14,1.86),(18.19,1.74),(18.24,1.53),
 (18.27,1.56),(18.32,2.27),(18.36,4.27),(18.41,4.04),(18.46,3.92),(18.51,4.04),(18.56,3.92),(18.60,3.57),(18.65,4.27),
 (18.69,4.51),(18.73,4.27),(18.78,3.69),(18.83,3.33),(18.87,3.21),(18.91,3.48),(18.96,3.60),(19.01,3.86),(19.06,4.22),
 (19.09,4.04),(19.14,5.10),(19.18,4.63),(19.21,4.98),(19.26,4.39),(19.31,5.19),(19.34,4.75),(19.39,4.27),(19.43,4.57),
 (19.47,4.98),(19.51,4.75),(19.56,4.16),(19.59,3.57),(19.64,3.57),(19.69,3.10),(19.73,2.27),(19.77,1.24),(19.81,1.27),
 (19.84,1.98),(19.89,1.86),(19.92,2.51),(19.97,2.74),(20.02,3.57),(20.05,3.69),(20.09,3.27),(20.13,3.57),(20.18,4.27),
 (20.22,3.92),(20.27,3.21),(20.31,2.51),(20.36,1.86),(20.39,2.03),(20.43,2.74),(20.47,3.10),(20.52,3.57),(20.56,3.60),
 (20.61,3.92),(20.66,3.92),(20.71,4.10),(20.76,3.33),(20.81,2.98),(20.86,2.68),(20.90,2.56),(20.95,2.65),(21.00,2.45),
 (21.05,2.27),(21.10,2.06),(21.14,1.62),(21.19,1.15),(21.22,0.91),(21.27,0.03),(21.32,0.21),(21.36,1.44),(21.40,2.98),
 (21.43,4.10),(21.47,3.33),(21.51,2.21),(21.55,2.56),(21.60,1.44),(21.64,1.50),(21.69,1.03),(21.74,0.15),(21.79,0.03),
 (21.83,0.50),(21.86,1.33),(21.91,2.36),(21.94,1.98),(21.98,3.18),(22.01,2.45),(22.05,3.39),(22.10,2.36),(22.15,3.36),
 (22.20,3.21),(22.24,2.27),(22.28,1.98),(22.33,1.86),(22.37,1.33),(22.42,0.80),(22.47,0.44),(22.49,0.32),(22.52,0.97),
 (22.56,1.74),(22.59,2.74),(22.63,3.60),(22.68,3.39),(22.71,3.60),(22.76,3.21),(22.81,3.51),(22.85,3.80),(22.90,3.89),
 (22.95,3.60),(22.99,3.86),(23.02,4.19),(23.07,3.89),(23.11,3.89),(23.15,3.71),(23.20,2.51),(23.25,1.03),(23.29,0.21),
 (23.35,0.74),(23.38,0.74),(23.42,0.24),(23.46,0.56),(23.49,1.03),(23.52,2.51),(23.56,2.74),(23.60,3.15),(23.63,2.74),
 (23.68,2.21),(23.72,2.15),(23.76,2.33),(23.79,3.69),(23.84,4.63),(23.87,4.98),(23.92,4.78),(23.96,4.81),(24.0,5.22)]

# (d) insolation, kWh/m2 : hourly values 07:00 ... 19:00 for each day from 02/11 to 03/05
ins_hours = [7, 8, 9, 10, 11, 12, 13, 14, 15, 16, 17, 18, 19]
ins_black = [
 [0, 0, 0.03, 0.06, 0.08, 0.095, 0.08, 0.05, 0, 0, 0, 0, 0],
 [0, 0, 0.06, 0.15, 0.35, 0.60, 0.80, 0.78, 0.45, 0.20, 0.03, 0, 0],
 [0, 0.12, 0.35, 0.55, 0.68, 0.72, 0.70, 0.63, 0.50, 0.30, 0.08, 0, 0],
 [0, 0.12, 0.33, 0.48, 0.62, 0.67, 0.66, 0.56, 0.48, 0.30, 0.08, 0, 0],
 [0, 0.10, 0.32, 0.55, 0.68, 0.73, 0.75, 0.68, 0.50, 0.30, 0.08, 0, 0],
 [0, 0.08, 0.28, 0.50, 0.62, 0.69, 0.71, 0.58, 0.44, 0.28, 0.08, 0, 0],
 [0, 0.10, 0.35, 0.55, 0.66, 0.77, 0.72, 0.60, 0.40, 0.15, 0.03, 0, 0],
 [0, 0.08, 0.35, 0.55, 0.68, 0.75, 0.74, 0.60, 0.50, 0.25, 0.05, 0, 0],
 [0, 0.15, 0.32, 0.38, 0.44, 0.48, 0.55, 0.66, 0.45, 0.22, 0.05, 0, 0],
 [0, 0.12, 0.40, 0.60, 0.70, 0.75, 0.76, 0.70, 0.52, 0.30, 0.06, 0, 0],
 [0, 0.05, 0.22, 0.35, 0.47, 0.52, 0.51, 0.54, 0.42, 0.20, 0.04, 0, 0],
 [0, 0.05, 0.20, 0.34, 0.37, 0.36, 0.23, 0.17, 0.15, 0.09, 0.02, 0, 0],
 [0, 0.06, 0.25, 0.40, 0.43, 0.45, 0.55, 0.68, 0.40, 0.20, 0.04, 0, 0],
 [0, 0.03, 0.15, 0.38, 0.43, 0.36, 0.55, 0.68, 0.50, 0.28, 0.10, 0, 0],
 [0, 0.10, 0.30, 0.45, 0.66, 0.60, 0.50, 0.56, 0.42, 0.25, 0.08, 0, 0],
 [0, 0.12, 0.40, 0.62, 0.75, 0.79, 0.80, 0.75, 0.58, 0.34, 0.10, 0, 0],
 [0, 0.10, 0.36, 0.60, 0.74, 0.80, 0.81, 0.75, 0.56, 0.30, 0.07, 0, 0],
 [0, 0.10, 0.30, 0.50, 0.62, 0.63, 0.55, 0.55, 0.50, 0.38, 0.20, 0.04, 0],
 [0, 0.10, 0.36, 0.60, 0.76, 0.80, 0.81, 0.72, 0.52, 0.28, 0.04, 0, 0],
 [0, 0.12, 0.40, 0.62, 0.74, 0.80, 0.70, 0.50, 0.43, 0.20, 0.03, 0, 0],
 [0, 0.06, 0.25, 0.55, 0.75, 0.53, 0.70, 0.66, 0.50, 0.46, 0.15, 0, 0],
 [0, 0.10, 0.38, 0.63, 0.78, 0.82, 0.83, 0.63, 0.48, 0.28, 0.05, 0, 0],
 [0, 0.05, 0.28, 0.53, 0.70, 0.80, 0.83, 0.78, 0.58, 0.36, 0.10, 0, 0],
 [0, 0.05, 0.28, 0.53, 0.70, 0.80, 0.84, 0.80, 0.53, 0.28, 0.05, 0, 0],
]
ins_red = [
 [0, 0, 0.17, 0.18, 0.35, 0.38, 0.36, 0.36, 0.30, 0.12, 0, 0, 0],
 [0, 0.02, 0.15, 0.45, 0.68, 0.75, 0.70, 0.62, 0.42, 0.20, 0.05, 0, 0],
 [0, 0.12, 0.35, 0.55, 0.70, 0.77, 0.72, 0.62, 0.52, 0.32, 0.10, 0, 0],
 [0, 0.12, 0.33, 0.48, 0.66, 0.72, 0.75, 0.55, 0.42, 0.28, 0.08, 0, 0],
 [0, 0.10, 0.32, 0.55, 0.70, 0.76, 0.78, 0.68, 0.50, 0.30, 0.08, 0, 0],
 [0, 0.08, 0.28, 0.50, 0.64, 0.71, 0.74, 0.60, 0.48, 0.30, 0.10, 0, 0],
 [0, 0.10, 0.35, 0.55, 0.72, 0.62, 0.55, 0.62, 0.35, 0.15, 0.03, 0, 0],
 [0, 0.08, 0.35, 0.55, 0.70, 0.78, 0.76, 0.62, 0.52, 0.25, 0.05, 0, 0],
 [0, 0.15, 0.32, 0.40, 0.52, 0.40, 0.52, 0.60, 0.45, 0.25, 0.05, 0, 0],
 [0, 0.12, 0.40, 0.60, 0.72, 0.78, 0.81, 0.72, 0.55, 0.30, 0.08, 0, 0],
 [0, 0.05, 0.25, 0.38, 0.50, 0.55, 0.54, 0.57, 0.44, 0.22, 0.05, 0, 0],
 [0, 0.05, 0.20, 0.35, 0.38, 0.38, 0.24, 0.18, 0.16, 0.12, 0.03, 0, 0],
 [0, 0.06, 0.22, 0.35, 0.41, 0.33, 0.32, 0.46, 0.25, 0.16, 0.14, 0, 0],
 [0, 0.03, 0.20, 0.45, 0.62, 0.63, 0.68, 0.57, 0.52, 0.38, 0.18, 0.02, 0],
 [0, 0.10, 0.30, 0.50, 0.60, 0.76, 0.60, 0.58, 0.45, 0.30, 0.33, 0.05, 0],
 [0, 0.12, 0.42, 0.65, 0.78, 0.83, 0.84, 0.78, 0.60, 0.35, 0.12, 0, 0],
 [0, 0.10, 0.38, 0.62, 0.76, 0.82, 0.84, 0.76, 0.58, 0.32, 0.08, 0, 0],
 [0, 0.10, 0.30, 0.50, 0.66, 0.70, 0.60, 0.60, 0.50, 0.40, 0.22, 0.05, 0],
 [0, 0.10, 0.38, 0.62, 0.78, 0.84, 0.85, 0.75, 0.55, 0.30, 0.05, 0, 0],
 [0, 0.12, 0.40, 0.62, 0.75, 0.83, 0.72, 0.45, 0.26, 0.32, 0.05, 0, 0],
 [0, 0.06, 0.25, 0.55, 0.60, 0.72, 0.85, 0.82, 0.40, 0.42, 0.12, 0, 0],
 [0, 0.10, 0.40, 0.65, 0.80, 0.85, 0.86, 0.65, 0.50, 0.30, 0.06, 0, 0],
 [0, 0.05, 0.30, 0.55, 0.72, 0.82, 0.87, 0.82, 0.60, 0.38, 0.12, 0, 0],
 [0, 0.05, 0.30, 0.55, 0.72, 0.82, 0.87, 0.82, 0.55, 0.30, 0.08, 0, 0],
]

# ---------------- style ----------------
plt.rcParams['font.family'] = ['Liberation Sans', 'DejaVu Sans']
plt.rcParams['axes.unicode_minus'] = True

T0 = mdates.date2num(START)
T1 = mdates.date2num(END)
TICK_LABEL_COLOR = '#4d4d4d'
TICK_COLOR = '#333333'
BLUE = '#3a3ea6'
ORANGE = '#ffa33c'
SPAN_GRAY = '#dcdcdc'


def series(pairs):
    a = np.array(pairs, dtype=float)
    return T0 + a[:, 0], a[:, 1]


def insolation(days):
    t, v = [], []
    for i, day in enumerate(days):
        for h, val in zip(ins_hours, day):
            t.append(T0 + i + h / 24.0)
            v.append(val)
    return np.array(t), np.array(v)


W_FIG, H_FIG = 2067, 2068
fig = plt.figure(figsize=(W_FIG / 100, H_FIG / 100), dpi=100)
left = 260 / W_FIG
width = (2043 - 260) / W_FIG
bounds = [(33.3, 486), (553.3, 1006), (1072.7, 1525), (1592.7, 1939)]
axes = []
for top, bot in bounds:
    axes.append(fig.add_axes([left, 1 - bot / H_FIG, width, (bot - top) / H_FIG]))
ax_a, ax_b, ax_c, ax_d = axes

for ax in axes:
    ax.set_xlim(T0, T1)
    for s in ax.spines.values():
        s.set_linewidth(2.8)
        s.set_color('black')
    ax.tick_params(axis='both', direction='out', length=9, width=2.4, color=TICK_COLOR,
                   labelsize=26, labelcolor=TICK_LABEL_COLOR, pad=7)
    ax.axvspan(mdates.datestr2num(gray_period[0]), mdates.datestr2num(gray_period[1]),
               color=SPAN_GRAY, lw=0, zorder=0)
    for ev in blue_events:
        x = mdates.datestr2num(ev)
        ax.plot([x, x], [0.965, 0.0], transform=ax.get_xaxis_transform(), color=BLUE,
                lw=2.7, ls=(0, (5.8, 4.0)), zorder=1.2)
    for ev in orange_events:
        x = mdates.datestr2num(ev)
        ax.plot([x, x], [0.965, 0.0], transform=ax.get_xaxis_transform(), color=ORANGE,
                lw=2.7, ls=(0, (5.8, 4.0)), zorder=1.2)

for ax in (ax_a, ax_b, ax_c):
    ax.xaxis.set_major_locator(mdates.DayLocator())
    ax.tick_params(axis='x', labelbottom=False)

ax_d.xaxis.set_major_locator(mticker.FixedLocator(mdates.datestr2num(date_tick_labels)))
ax_d.xaxis.set_major_formatter(mdates.DateFormatter('%m/%d'))

# (a)
for s in (snow_s1, snow_s2, snow_s3, snow_s4, snow_s5, snow_s6):
    x, y = series(s)
    ax_a.plot(x, y, color='#808080', lw=2.8, zorder=2, solid_joinstyle='round')
x, y = series(snow_main)
ax_a.plot(x, y, color='black', lw=3.6, zorder=3, solid_joinstyle='round')
ax_a.set_ylim(40, 120)
ax_a.set_yticks([40, 60, 80, 100, 120])

# (b)
ax_b.axhline(0, color='#a8a8a8', lw=2.4, ls=(0, (1.2, 2.4)), zorder=1.1)
x, y = series(temp_black)
ax_b.plot(x, y, color='black', lw=2.1, zorder=2)
x, y = series(temp_red)
ax_b.plot(x, y, color='#ff0000', lw=2.1, zorder=2.1)
ax_b.set_ylim(-20, 10)
ax_b.set_yticks([-20, -15, -10, -5, 0, 5, 10])

# (c)
x, y = series(wind_black)
ax_c.plot(x, y, color='black', lw=1.8, zorder=2)
x, y = series(wind_red)
ax_c.plot(x, y, color='#ff0000', lw=1.8, zorder=2.1)
ax_c.set_ylim(0, 8)
ax_c.set_yticks([0, 2, 4, 6, 8])

# (d)
x, y = insolation(ins_black)
ax_d.plot(x, y, color='black', lw=1.9, zorder=2)
x, y = insolation(ins_red)
ax_d.plot(x, y, color='#ff0000', lw=1.9, zorder=2.1)
ax_d.set_ylim(0, 1.0)
ax_d.set_yticks([0, 0.2, 0.4, 0.6, 0.8, 1.0])
ax_d.yaxis.set_major_formatter(mticker.FormatStrFormatter('%.1f'))

# labels
ylabels = ['Snow Depth\n(cm)', 'Air Temperature\n(°C)', 'Wind Speed\n(m/s)', 'Insolation\n(kWh/m²)']
panel_tags = ['(a)', '(b)', '(c)', '(d)']
for (top, bot), lab, tag in zip(bounds, ylabels, panel_tags):
    yc = 1 - (top + bot) / 2 / H_FIG
    fig.text(80 / W_FIG, yc, lab, rotation=90, ha='center', va='center',
             multialignment='center', fontsize=35, linespacing=1.45, color='black')
    fig.text(28 / W_FIG, 1 - (top + 21) / H_FIG, tag, ha='left', va='center',
             fontsize=35, fontweight='bold', color='black')

fig.text((260 + 2043) / 2 / W_FIG, 1 - 2030 / H_FIG, 'Date', ha='center', va='center',
         fontsize=35, color='black')

fig.savefig('out.png', dpi=100)
